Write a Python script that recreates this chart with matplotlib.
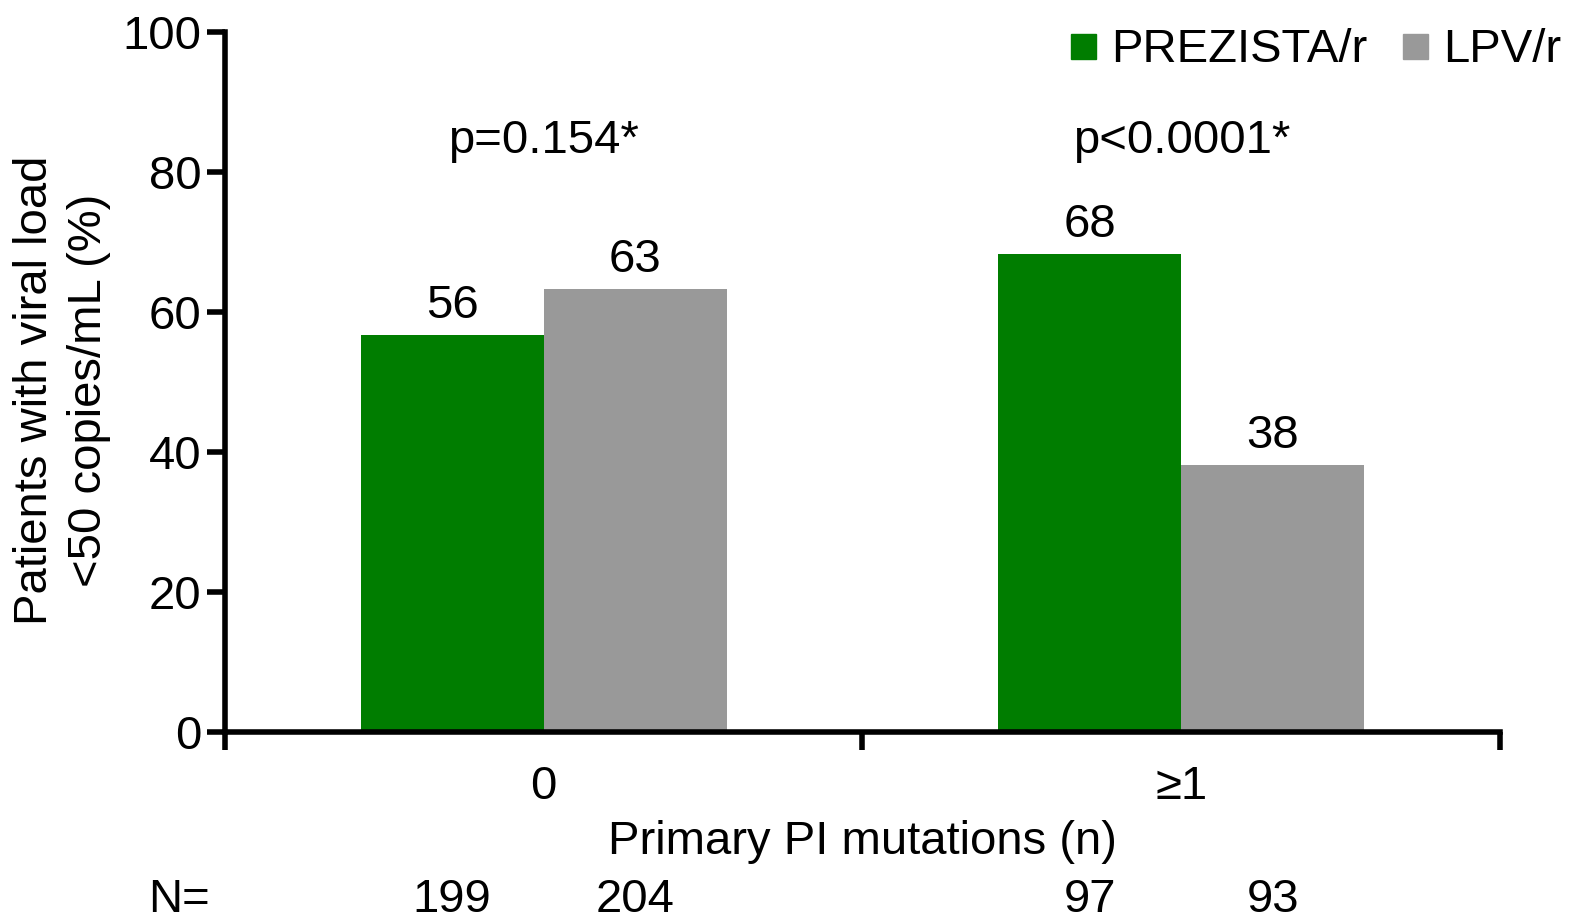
import matplotlib
matplotlib.use('Agg')
import matplotlib.pyplot as plt
from matplotlib.lines import Line2D

plt.rcParams['font.family'] = ['Liberation Sans', 'DejaVu Sans']

# Data
groups = ['0', '≥1']
prezista = [56.7, 68.3]
lpv = [63.3, 38.1]
prezista_labels = ['56', '68']
lpv_labels = ['63', '38']
p_values = ['p=0.154*', 'p<0.0001*']
n_prezista = [199, 97]
n_lpv = [204, 93]

green = '#007d00'
grey = '#999999'
fs = 34

fig = plt.figure(figsize=(15.71, 9.21), dpi=100)
ax = fig.add_axes([0.1432, 0.2052, 0.8116, 0.7601])

centers = [0.5, 1.5]
w = 0.287
left_x = [c - w / 2 for c in centers]
right_x = [c + w / 2 for c in centers]
ax.bar(left_x, prezista, width=w, color=green)
ax.bar(right_x, lpv, width=w, color=grey)

# value labels above bars
for x, v, t in zip(left_x, prezista, prezista_labels):
    ax.text(x, v + 1.0, t, ha='center', va='bottom', fontsize=fs)
for x, v, t in zip(right_x, lpv, lpv_labels):
    ax.text(x, v + 1.0, t, ha='center', va='bottom', fontsize=fs)

# p-values
for c, p in zip(centers, p_values):
    ax.text(c, 84.4, p, ha='center', va='center', fontsize=fs)

ax.set_xlim(0, 2)
ax.set_ylim(0, 100)
ax.set_yticks([0, 20, 40, 60, 80, 100])
ax.set_xticks([0, 1, 2])
ax.set_xticklabels([])
ax.set_xticks(centers, minor=True)
ax.set_xticklabels(groups, minor=True)
ax.tick_params(axis='x', which='minor', length=0, labelsize=fs, pad=24)
ax.tick_params(axis='x', which='major', length=13, width=4, direction='out')
ax.tick_params(axis='y', length=13, width=4, labelsize=fs, pad=4)

for s in ['top', 'right']:
    ax.spines[s].set_visible(False)
for s in ['left', 'bottom']:
    ax.spines[s].set_linewidth(4)

ax.set_xlabel('Primary PI mutations (n)', fontsize=fs, labelpad=8)

fig.text(62 / 1571, 1 - 390 / 921, 'Patients with viral load\n<50 copies/mL (%)',
         rotation=90, ha='center', va='center', fontsize=fs, linespacing=1.3)

# N= row
ny = -0.24
ax.text(-0.12, ny, 'N=', transform=ax.get_xaxis_transform(), ha='left',
        va='center', fontsize=fs)
for x, n in zip(left_x, n_prezista):
    ax.text(x, ny, str(n), transform=ax.get_xaxis_transform(), ha='center',
            va='center', fontsize=fs)
for x, n in zip(right_x, n_lpv):
    ax.text(x, ny, str(n), transform=ax.get_xaxis_transform(), ha='center',
            va='center', fontsize=fs)

handles = [Line2D([], [], marker='s', ls='none', color=green, markersize=18),
           Line2D([], [], marker='s', ls='none', color=grey, markersize=18)]
fig.legend(handles, ['PREZISTA/r', 'LPV/r'], loc='upper right',
           bbox_to_anchor=(1.012, 1.0), ncol=2, frameon=False, fontsize=fs,
           handletextpad=0.2, columnspacing=0.6, borderaxespad=0.2,
           handlelength=0.8)

fig.savefig('out.png', dpi=100)
